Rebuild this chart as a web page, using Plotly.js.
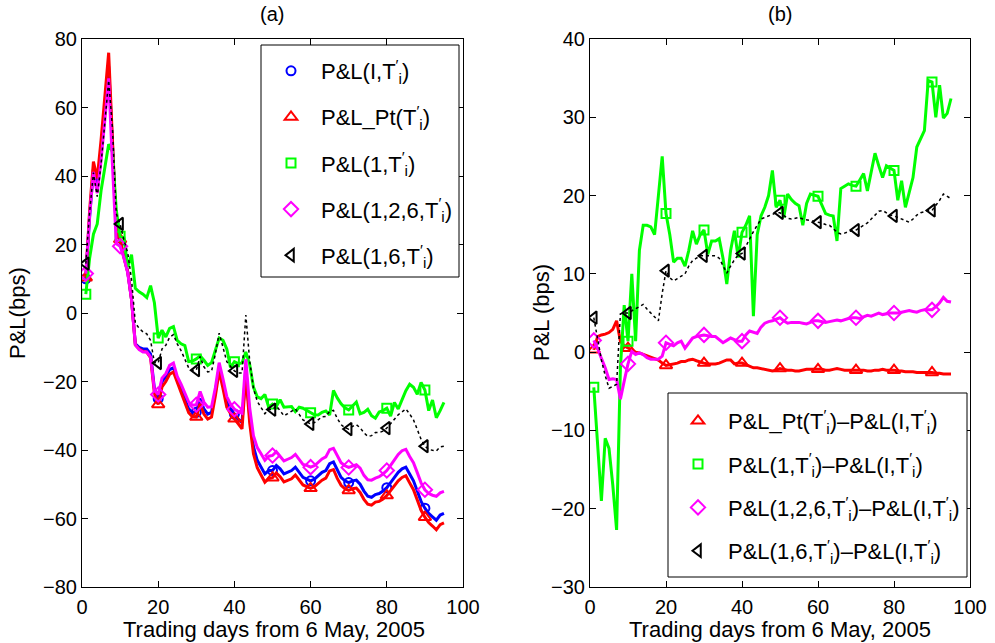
<!DOCTYPE html>
<html>
<head>
<meta charset="utf-8">
<script src="https://cdn.plot.ly/plotly-3.0.1.min.js"></script>
<style>html,body{margin:0;padding:0;background:#fff;}#chart{width:995px;height:643px;}</style>
</head>
<body>
<div id="chart"></div>
<script>
// ---------- DATA ----------
const days = [1,2,3,4,5,6,7,8,9,10,11,12,13,14,15,16,17,18,19,20,21,22,23,24,25,26,27,28,29,30,31,32,33,34,35,36,37,38,39,40,41,42,43,44,45,46,47,48,49,50,51,52,53,54,55,56,57,58,59,60,61,62,63,64,65,66,67,68,69,70,71,72,73,74,75,76,77,78,79,80,81,82,83,84,85,86,87,88,89,90,91,92,93,94,95];
const markerDays = [1,10,20,30,40,50,60,70,80,90];

// Panel (a): P&L in bps
const pnlI = [10,28,42,37,48,60,72,49,24,21,
16,12,4,-9,-10,-10.5,-10.5,-12,-22,-25,
-20,-18.5,-16.5,-16,-19,-22,-25,-28,-29,-29,
-25,-28,-29.5,-29,-23,-16,-21,-26,-28,-29.5,
-31,-32,-16,-30,-39,-43,-45,-47,-46,-46,
-44.5,-45.5,-47,-46.5,-46,-45,-46.5,-48,-48.5,-49,
-48.5,-47.5,-46.5,-46,-44,-43.5,-46,-48,-49,-49.5,
-49,-48.8,-50,-52,-53.5,-53.8,-53,-52.7,-52,-51,
-49.5,-48,-46.5,-45.5,-45,-47,-49,-52,-55,-57,
-58.5,-59.5,-60.5,-59,-58.5];
const pnlPt = [10.3,30,44.2,39.3,50.5,62.9,76,50.4,24.8,21.5,
16.2,12,3.9,-9.3,-10.5,-11.2,-11.4,-13,-23.4,-26.7,
-21.6,-20,-17.9,-17.2,-20.2,-23,-25.9,-29.1,-30.3,-30.4,
-26.5,-29.5,-31,-30.4,-24.2,-17,-22,-27.5,-29.4,-30.9,
-32.6,-33.8,-18,-32,-41.1,-45.2,-47.3,-49.4,-48.3,-48.1,
-46.7,-47.8,-49.3,-48.9,-48.4,-47.3,-48.7,-50.2,-50.7,-51.2,
-50.7,-49.8,-48.8,-48.2,-46.1,-45.7,-48.3,-50.3,-51.3,-51.8,
-51.3,-51.1,-52.4,-54.4,-55.8,-56.1,-55.2,-55,-54.3,-53.3,
-51.9,-50.4,-49,-48,-47.5,-49.6,-51.6,-54.6,-57.6,-59.6,
-61.2,-62.2,-63.3,-61.8,-61.3];
const pnl1 = [5.5,16,23,26,35.7,43,49.3,47,30,22.4,
22,13.4,17,7.2,6.2,5.5,4.5,8,3,-7.3,
-5,-7,-4.5,-4,-8,-9,-9.5,-14.2,-14,-13.4,
-12.5,-13.8,-15.3,-14.5,-11,-7.3,-8,-10.5,-15.9,-14.2,
-14.8,-14.6,-11.4,-15,-21.6,-24.5,-25,-23.8,-27.5,-26.6,
-27.3,-25.3,-27.5,-27.5,-27.3,-28.8,-27.5,-27.8,-28.5,-29.1,
-29.7,-29.8,-29,-28.6,-29.8,-22.6,-24.8,-26.5,-27.7,-28.3,
-27,-26,-29.4,-29,-28.1,-30,-30.7,-28.9,-28.5,-27.8,
-30.1,-26.1,-28,-25.1,-22.7,-20.8,-21.7,-23.7,-20.3,-22.5,
-28.5,-25.4,-30.6,-28.5,-26.1];
const pnl126 = [11.5,28.5,41.2,35,44.5,56.6,68.5,43,20.3,19.5,
16.1,11.7,3.9,-9.3,-10.7,-11.4,-11.4,-12.9,-22.5,-23.8,
-19,-17.7,-15.3,-14.6,-18.5,-20.8,-23.2,-26,-26.9,-26.8,
-22.9,-26,-27.5,-27.4,-21.8,-14.5,-19.2,-24.4,-26.6,-28.1,
-28.8,-29.3,-13.5,-27.6,-35.8,-39.3,-41.1,-43,-41.8,-41.6,
-40.5,-41.8,-43.2,-42.7,-42.2,-41.3,-42.9,-44.2,-44.5,-45,
-44.6,-43.7,-42.6,-42,-39.9,-39.5,-41.8,-43.7,-44.6,-45.1,
-44.7,-44.3,-45.3,-47.4,-48.7,-48.8,-48.2,-47.8,-47,-46,
-44.5,-42.9,-41.3,-40.2,-39.8,-41.9,-43.7,-46.6,-49.6,-51.6,
-52.7,-53.2,-53.5,-52.5,-52.1];
const pnl16 = [14.4,29.5,41,34,43.4,55.6,67.9,53.9,29,26,
21.3,17.6,9.8,-2.9,-4.5,-5.5,-6.1,-8,-14.5,-14.6,
-10.5,-9.4,-7.1,-6.3,-9,-11,-13.3,-16,-16.7,-16.7,
-12.7,-15.7,-17.2,-17,-12,-5.9,-10,-14.2,-15.6,-16.9,
-17.5,-17.5,-0.6,-13.8,-22,-25.8,-27.6,-29.4,-28.2,-28.2,
-27.1,-28.4,-30,-29.4,-28.8,-28,-29.6,-31.2,-31.8,-32.4,
-32,-31.2,-30.3,-30.2,-28.7,-28.4,-30.8,-32.6,-33.5,-33.9,
-33.1,-32.6,-33.5,-35,-36,-35.8,-34.9,-34.9,-34.5,-33.6,
-32.3,-31,-29.7,-28.9,-28,-29.5,-31.2,-34,-36.9,-38.9,
-39.8,-40.1,-40.3,-39.1,-38.9];

// Panel (b): differences vs P&L(I,T'i)
const diffPt = [0.3,2,2.2,2.3,2.5,2.9,4,1.4,0.8,0.5,
0.2,0,-0.1,-0.3,-0.5,-0.7,-0.9,-1,-1.4,-1.7,
-1.6,-1.5,-1.4,-1.2,-1.2,-1,-0.9,-1.1,-1.3,-1.4,
-1.5,-1.5,-1.5,-1.4,-1.2,-1,-1,-1.5,-1.4,-1.4,
-1.6,-1.8,-2,-2,-2.1,-2.2,-2.3,-2.4,-2.3,-2.1,
-2.2,-2.3,-2.3,-2.4,-2.4,-2.3,-2.2,-2.2,-2.2,-2.2,
-2.2,-2.3,-2.3,-2.2,-2.1,-2.2,-2.3,-2.3,-2.3,-2.3,
-2.3,-2.3,-2.4,-2.4,-2.3,-2.3,-2.2,-2.3,-2.3,-2.3,
-2.4,-2.4,-2.5,-2.5,-2.5,-2.6,-2.6,-2.6,-2.6,-2.6,
-2.7,-2.7,-2.8,-2.8,-2.8];
const diff1 = [-4.5,-12,-19,-11,-12.3,-17,-22.7,-2,6,1.4,
10,1.4,13,16.2,16.2,16,15,20,25,17.7,
15,11.5,12,12,11,13,15.5,13.8,15,15.6,
12.5,14.2,14.2,14.5,12,8.7,13,15.5,12.1,15.3,
16.2,17.4,4.6,15,17.4,18.5,20,23.2,18.5,19.4,
17.2,20.2,19.5,19,18.7,16.2,19,20.2,20,19.9,
18.8,17.7,17.5,17.4,14.2,20.9,21.2,21.5,21.3,21.2,
22,22.8,20.6,23,25.4,23.8,22.3,23.8,23.5,23.2,
19.4,21.9,18.5,20.4,22.3,26.2,27.3,28.3,34.7,34.5,
30,34.1,29.9,30.5,32.4];
const diff126 = [1.5,0.5,-0.8,-2,-3.5,-3.4,-3.5,-6,-3.7,-1.5,
0.1,-0.3,-0.1,-0.3,-0.7,-0.9,-0.9,-0.9,-0.5,1.2,
1,0.8,1.2,1.4,0.5,1.2,1.8,2,2.1,2.2,
2.1,2,2,1.6,1.2,1.5,1.8,1.6,1.4,1.4,
2.2,2.7,2.5,2.4,3.2,3.7,3.9,4,4.2,4.4,
4,3.7,3.8,3.8,3.8,3.7,3.6,3.8,4,4,
3.9,3.8,3.9,4,4.1,4,4.2,4.3,4.4,4.4,
4.3,4.5,4.7,4.6,4.8,5,4.8,4.9,5,5,
5,5.1,5.2,5.3,5.2,5.1,5.3,5.4,5.4,5.4,
5.8,6.3,7,6.5,6.4];
const diff16 = [4.4,1.5,-1,-3,-4.6,-4.4,-4.1,4.9,5,5,
5.3,5.6,5.8,6.1,5.5,5,4.4,4,7.5,10.4,
9.5,9.1,9.4,9.7,10,11,11.7,12,12.3,12.3,
12.3,12.3,12.3,12,11,10.1,11,11.8,12.4,12.6,
13.5,14.5,15.4,16.2,17,17.2,17.4,17.6,17.8,17.8,
17.4,17.1,17,17.1,17.2,17,16.9,16.8,16.7,16.6,
16.5,16.3,16.2,15.8,15.3,15.1,15.2,15.4,15.5,15.6,
15.9,16.2,16.5,17,17.5,18,18.1,17.8,17.5,17.4,
17.2,17,16.8,16.6,17,17.5,17.8,18,18.1,18.1,
18.7,19.4,20.2,19.9,19.6];

const Ti = 'T<sup>′</sup><sub>i</sub>';
const namesA = ['P&amp;L(I,'+Ti+')','P&amp;L_Pt('+Ti+')','P&amp;L(1,'+Ti+')','P&amp;L(1,2,6,'+Ti+')','P&amp;L(1,6,'+Ti+')'];
const namesB = ['P&amp;L_Pt('+Ti+')–P&amp;L(I,'+Ti+')','P&amp;L(1,'+Ti+')–P&amp;L(I,'+Ti+')','P&amp;L(1,2,6,'+Ti+')–P&amp;L(I,'+Ti+')','P&amp;L(1,6,'+Ti+')–P&amp;L(I,'+Ti+')'];

// ---------- STYLE ----------
const FONT = 'Liberation Sans, Arial, sans-serif';
const W = 995, H = 643;
const styA = [
  {c:'#0000ff', sym:'circle-open', sz:9, dash:'solid', w:3},
  {c:'#ff0000', sym:'triangle-up-open', sz:11, dash:'solid', w:3},
  {c:'#00ff00', sym:'square-open', sz:9, dash:'solid', w:3},
  {c:'#ff00ff', sym:'diamond-open', sz:11, dash:'solid', w:3},
  {c:'#000000', sym:'triangle-left-open', sz:11, dash:'dot', w:1.5}
];
const styB = styA.slice(1);
const seriesA = [pnlI, pnlPt, pnl1, pnl126, pnl16];
const seriesB = [diffPt, diff1, diff126, diff16];

function pick(arr){ return markerDays.map(d => arr[days.indexOf(d)]); }

const traces = [];
seriesA.forEach((s,i)=>{
  const st = styA[i];
  traces.push({x:days, y:s, xaxis:'x', yaxis:'y', mode:'lines', showlegend:false,
    line:{color:st.c, width:st.w, dash:st.dash}, hoverinfo:'skip'});
  traces.push({x:markerDays, y:pick(s), xaxis:'x', yaxis:'y', mode:'markers', name:namesA[i],
    legend:'legend', legendgroup:'a'+i,
    marker:{symbol:st.sym, size:st.sz, color:st.c, line:{color:st.c, width:2}}});
});
seriesB.forEach((s,i)=>{
  const st = styB[i];
  traces.push({x:days, y:s, xaxis:'x2', yaxis:'y2', mode:'lines', showlegend:false,
    line:{color:st.c, width:st.w, dash:st.dash}, hoverinfo:'skip'});
  traces.push({x:markerDays, y:pick(s), xaxis:'x2', yaxis:'y2', mode:'markers', name:namesB[i],
    legend:'legend2', legendgroup:'b'+i,
    marker:{symbol:st.sym, size:st.sz, color:st.c, line:{color:st.c, width:2}}});
});

const TICK = 20, LAB = 22, LEG = 22;
const ax = {showline:true, linecolor:'black', linewidth:1, mirror:'ticks', ticks:'inside', ticklen:6,
  tickcolor:'black', tickfont:{family:FONT, size:TICK, color:'black'}, showgrid:false, zeroline:false, fixedrange:true};
const yDom = [1-587/H, 1-39/H];
const legBase = {borderwidth:0, bgcolor:'rgba(0,0,0,0)', font:{family:FONT, size:LEG, color:'black'},
  traceorder:'grouped', itemwidth:50, xanchor:'left', yanchor:'top'};

function ann(text, x, y, size, angle){
  return {text:text, x:x/W, y:1-y/H, xref:'paper', yref:'paper', xanchor:'center', yanchor:'middle',
    showarrow:false, textangle:angle||0, font:{family:FONT, size:size, color:'black'}};
}
function box(x0, x1, y0, y1){
  return {type:'rect', xref:'paper', yref:'paper', x0:x0/W, x1:x1/W, y0:1-y1/H, y1:1-y0/H,
    fillcolor:'white', line:{color:'black', width:1}, layer:'above'};
}

const layout = {
  width:W, height:H, margin:{l:0,r:0,t:0,b:0}, paper_bgcolor:'white', plot_bgcolor:'white',
  font:{family:FONT, size:TICK, color:'black'},
  xaxis: Object.assign({}, ax, {domain:[82/W, 463/W], range:[0,100], tick0:0, dtick:20, anchor:'y', ticklabelstandoff:2}),
  yaxis: Object.assign({}, ax, {domain:yDom, range:[-80,80], tick0:0, dtick:20, anchor:'x'}),
  xaxis2: Object.assign({}, ax, {domain:[590/W, 970/W], range:[0,100], tick0:0, dtick:20, anchor:'y2', ticklabelstandoff:2}),
  yaxis2: Object.assign({}, ax, {domain:yDom, range:[-30,40], tick0:0, dtick:10, anchor:'x2'}),
  legend: Object.assign({}, legBase, {x:261/W, y:1-50/H, tracegroupgap:14.5}),
  legend2: Object.assign({}, legBase, {x:668/W, y:1-400/H, tracegroupgap:11.7}),
  shapes: [box(261, 459, 45, 277), box(668, 967, 393, 577)],
  annotations: [
    ann('(a)', 272, 14, TICK),
    ann('(b)', 780, 14, TICK),
    ann('Trading days from 6 May, 2005', 274, 629, LAB),
    ann('Trading days from 6 May, 2005', 780, 629, LAB),
    ann('P&amp;L(bps)', 17, 313, LAB, -90),
    ann('P&amp;L (bps)', 541, 313, LAB, -90)
  ]
};

Plotly.newPlot('chart', traces, layout, {displayModeBar:false, staticPlot:true});
</script>
</body>
</html>
